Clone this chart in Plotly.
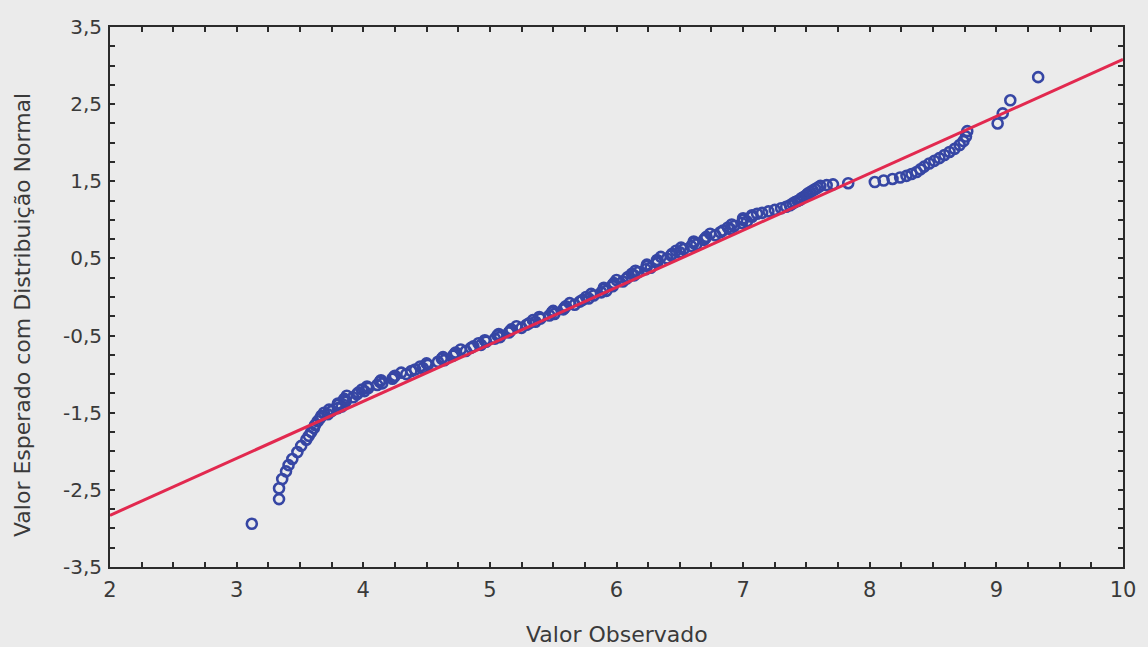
import plotly.graph_objects as go

obs_tail_low = [3.12, 3.335, 3.335, 3.36, 3.39, 3.41, 3.44, 3.48, 3.51, 3.55,
                3.57, 3.59, 3.61, 3.62, 3.64, 3.66]
exp_tail_low = [-2.94, -2.62, -2.48, -2.36, -2.26, -2.18, -2.10, -2.01, -1.93, -1.85,
                -1.80, -1.75, -1.70, -1.66, -1.61, -1.57]

obs_mid = [3.67, 3.72, 3.69, 3.75, 3.73, 3.80, 3.83, 3.80, 3.80, 3.86,
           3.86, 3.85, 3.92, 3.87, 3.95, 3.96, 4.01, 3.99, 4.04, 4.03,
           4.11, 4.15, 4.13, 4.14, 4.23, 4.24, 4.25, 4.34, 4.30, 4.38,
           4.41, 4.47, 4.45, 4.51, 4.50, 4.59, 4.64, 4.62, 4.63, 4.71,
           4.72, 4.73, 4.81, 4.77, 4.85, 4.87, 4.93, 4.91, 4.97, 4.96,
           5.04, 5.08, 5.06, 5.07, 5.15, 5.16, 5.17, 5.25, 5.21, 5.29,
           5.31, 5.36, 5.34, 5.40, 5.39, 5.47, 5.51, 5.49, 5.50, 5.58,
           5.59, 5.60, 5.67, 5.63, 5.71, 5.73, 5.78, 5.76, 5.82, 5.80,
           5.88, 5.92, 5.90, 5.90, 5.97, 5.97, 5.98, 6.05, 6.00, 6.08,
           6.09, 6.14, 6.12, 6.17, 6.15, 6.23, 6.27, 6.24, 6.24, 6.32,
           6.32, 6.32, 6.40, 6.35, 6.43, 6.44, 6.50, 6.47, 6.53, 6.51,
           6.59, 6.63, 6.61, 6.61, 6.69, 6.70, 6.71, 6.78, 6.74, 6.82,
           6.84, 6.90, 6.88, 6.93, 6.91, 6.99, 7.03, 7.00, 7.00, 7.07,
           7.07]
exp_mid = [-1.54, -1.52, -1.50, -1.48, -1.46, -1.44, -1.42, -1.40, -1.38, -1.36,
           -1.34, -1.32, -1.30, -1.28, -1.26, -1.24, -1.22, -1.20, -1.18, -1.16,
           -1.14, -1.12, -1.10, -1.08, -1.06, -1.04, -1.02, -1.00, -0.98, -0.96,
           -0.94, -0.92, -0.90, -0.88, -0.86, -0.84, -0.82, -0.80, -0.78, -0.76,
           -0.74, -0.72, -0.70, -0.68, -0.66, -0.64, -0.62, -0.60, -0.58, -0.56,
           -0.54, -0.52, -0.50, -0.48, -0.46, -0.44, -0.42, -0.40, -0.38, -0.36,
           -0.34, -0.32, -0.30, -0.28, -0.26, -0.24, -0.22, -0.20, -0.18, -0.16,
           -0.14, -0.12, -0.10, -0.08, -0.06, -0.04, -0.02, 0.00, 0.02, 0.04,
           0.06, 0.08, 0.10, 0.12, 0.14, 0.16, 0.18, 0.20, 0.22, 0.24,
           0.26, 0.28, 0.30, 0.32, 0.34, 0.36, 0.38, 0.40, 0.42, 0.44,
           0.46, 0.48, 0.50, 0.52, 0.54, 0.56, 0.58, 0.60, 0.62, 0.64,
           0.66, 0.68, 0.70, 0.72, 0.74, 0.76, 0.78, 0.80, 0.82, 0.84,
           0.86, 0.88, 0.90, 0.92, 0.94, 0.96, 0.98, 1.00, 1.02, 1.04,
           1.06]

obs_tail_high = [7.11, 7.15, 7.20, 7.25, 7.30, 7.34, 7.37, 7.39, 7.41, 7.43,
                 7.45, 7.46, 7.48, 7.50, 7.51, 7.53, 7.55, 7.57, 7.59, 7.61,
                 7.66, 7.71, 7.83, 8.04, 8.11, 8.18, 8.24, 8.29, 8.33, 8.37,
                 8.40, 8.43, 8.47, 8.51, 8.55, 8.59, 8.63, 8.67, 8.71, 8.74,
                 8.76, 8.77, 9.01, 9.05, 9.11, 9.33]
exp_tail_high = [1.08, 1.09, 1.11, 1.13, 1.15, 1.17, 1.19, 1.21, 1.23, 1.245,
                 1.26, 1.28, 1.30, 1.32, 1.34, 1.36, 1.38, 1.40, 1.42, 1.44,
                 1.45, 1.46, 1.475, 1.49, 1.51, 1.53, 1.55, 1.57, 1.595, 1.62,
                 1.655, 1.69, 1.73, 1.765, 1.80, 1.84, 1.88, 1.92, 1.97, 2.02,
                 2.08, 2.15, 2.25, 2.38, 2.55, 2.85]

# Reference line (normal fit)
fit_x = [2, 10]
fit_y = [-2.83, 3.08]

# Axis ticks
x_tick_values = [2, 3, 4, 5, 6, 7, 8, 9, 10]
x_tick_labels = ["2", "3", "4", "5", "6", "7", "8", "9", "10"]
y_tick_values = [-3.5, -2.5, -1.5, -0.5, 0.5, 1.5, 2.5, 3.5]
y_tick_labels = ["-3,5", "-2,5", "-1,5", "-0,5", "0,5", "1,5", "2,5", "3,5"]

x_title = "Valor Observado"
y_title = "Valor Esperado com Distribuição Normal"

obs = obs_tail_low + obs_mid + obs_tail_high
exp = exp_tail_low + exp_mid + exp_tail_high

BG = "#ebebeb"
INK = "#2b2b2b"
TXT = "#3a3a3a"
FONT = "DejaVu Sans, sans-serif"

fig = go.Figure()
fig.add_trace(go.Scatter(
    x=obs, y=exp, mode="markers",
    marker=dict(symbol="circle-open", size=10, color="#3646a4",
                line=dict(width=2.6, color="#3646a4")),
    showlegend=False, hoverinfo="skip"))
fig.add_trace(go.Scatter(
    x=fit_x, y=fit_y, mode="lines",
    line=dict(color="#e2294f", width=3),
    showlegend=False, hoverinfo="skip"))

axis_common = dict(
    showline=True, linecolor=INK, linewidth=2, mirror="ticks",
    ticks="inside", ticklen=5, tickwidth=1.5, tickcolor=INK,
    showgrid=False, zeroline=False,
    minor=dict(ticks="inside", ticklen=5, tickwidth=1.5, tickcolor=INK, dtick=0.25, showgrid=False),
)

fig.update_xaxes(range=[2, 10], tickmode="array", tickvals=x_tick_values,
                 ticktext=x_tick_labels, tickfont=dict(family=FONT, size=21, color=TXT),
                 ticklabelstandoff=3, **axis_common)
fig.update_yaxes(range=[-3.5, 3.5], tickmode="array", tickvals=y_tick_values,
                 ticktext=y_tick_labels, tickfont=dict(family=FONT, size=20, color=TXT),
                 ticklabelstandoff=2, **axis_common)

fig.add_annotation(text=x_title, xref="paper", yref="paper", x=0.5, y=0,
                   xanchor="center", yanchor="middle", xshift=0, yshift=-67,
                   showarrow=False, font=dict(family=FONT, size=22, color=TXT))
fig.add_annotation(text=y_title, xref="paper", yref="paper", x=0, y=0.5,
                   xanchor="center", yanchor="middle", xshift=-88, yshift=-18,
                   textangle=-90, showarrow=False,
                   font=dict(family=FONT, size=22, color=TXT))

fig.update_layout(
    width=1148, height=647, autosize=False,
    margin=dict(l=110, r=20, t=27, b=80),
    paper_bgcolor=BG, plot_bgcolor=BG,
)

fig.write_html("out.html", config={"displayModeBar": False})

# remove the browser's default page margin so the figure fills the window
with open("out.html", encoding="utf-8") as f:
    html = f.read()
html = html.replace("<body>", '<body style="margin:0;overflow:hidden;background:#ebebeb">', 1)
with open("out.html", "w", encoding="utf-8") as f:
    f.write(html)
